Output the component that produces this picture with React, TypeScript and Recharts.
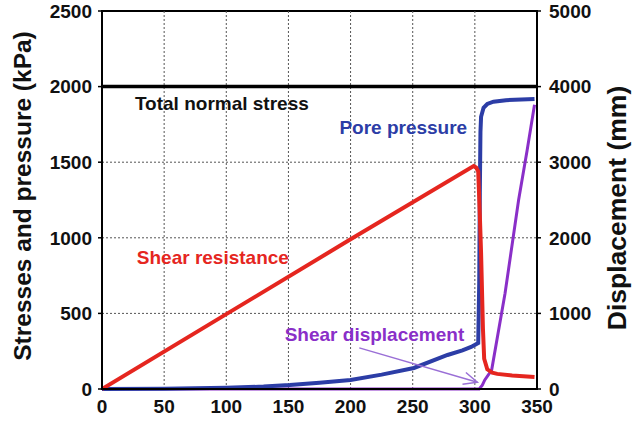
import React from "react";
import {
  ComposedChart,
  Line,
  XAxis,
  YAxis,
  ReferenceLine,
  ReferenceDot,
  ReferenceArea,
} from "recharts";

// Elapsed time (x) and stresses (kPa) for the ring-shear test
const normalTime = [0, 350];
const normalStress = [2000, 2000];

const shearTime = [0, 100, 200, 299, 301, 302.7, 304, 305, 306.5, 307.5, 310, 314, 318, 330, 348];
const shearResistance = [0, 495, 990, 1475, 1465, 1440, 1150, 900, 400, 200, 130, 108, 100, 90, 80];

const poreTime = [0, 50, 100, 130, 151, 175, 200, 225, 251, 278, 290, 297, 302.7, 303.5, 304, 304.5, 305, 307, 310, 315, 325, 348];
const porePressure = [0, 2, 8, 16, 26, 42, 60, 95, 139, 225, 255, 278, 304, 700, 1300, 1700, 1800, 1860, 1885, 1900, 1910, 1918];

// Shear displacement (mm), right axis
const dispTime = [0, 303.5, 306, 308, 313.5, 324.3, 335.2, 342, 348];
const shearDisplacement = [0, 0, 50, 120, 250, 1266, 2500, 3150, 3760];

const xTicks = [0, 50, 100, 150, 200, 250, 300, 350];
const leftTicks = [0, 500, 1000, 1500, 2000, 2500];
const rightTicks = [0, 1000, 2000, 3000, 4000, 5000];

const leftTitle = "Stresses and pressure (kPa)";
const rightTitle = "Displacement (mm)";

const zip = (ts: number[], vs: number[]) => ts.map((t, i) => ({ t, v: vs[i] }));

const normalData = zip(normalTime, normalStress);
const shearData = zip(shearTime, shearResistance);
const poreData = zip(poreTime, porePressure);
const dispData = zip(dispTime, shearDisplacement);

const RED = "#e5261f";
const BLUE = "#2c3da6";
const PURPLE = "#8a2fc8";
const FONT = "'Liberation Sans', Arial, Helvetica, sans-serif";

const tickStyle = { fontFamily: FONT, fontWeight: 700, fontSize: 19, fill: "#111" };

// Dotted grid lines at the inner ticks
const gridX = xTicks.slice(1, -1);
const gridY = leftTicks.slice(1, -1);

const makeText = (text: string, color: string) => (props: any) => (
  <text
    x={props.cx}
    y={props.cy}
    fill={color}
    fontFamily={FONT}
    fontWeight={700}
    fontSize={19}
    textAnchor="start"
  >
    {text}
  </text>
);

// Rotated axis title, centred at an offset inside the axis box
const axisTitle = (text: string, dx: number, dyFromTop: number, size: number) => (props: any) => {
  const vb = props.viewBox || { x: 0, y: 0 };
  const cx = vb.x + dx;
  const cy = vb.y + dyFromTop;
  return (
    <text
      transform={`translate(${cx},${cy}) rotate(-90)`}
      textAnchor="middle"
      dominantBaseline="central"
      fontFamily={FONT}
      fontWeight={700}
      fontSize={size}
      fill="#111"
    >
      {text}
    </text>
  );
};

const ArrowShape = (props: any) => {
  const { x1, y1, x2, y2 } = props;
  const ang = Math.atan2(y2 - y1, x2 - x1);
  const len = 15;
  const spread = 0.42;
  const ax = x2 - len * Math.cos(ang - spread);
  const ay = y2 - len * Math.sin(ang - spread);
  const bx = x2 - len * Math.cos(ang + spread);
  const by = y2 - len * Math.sin(ang + spread);
  return (
    <g stroke="#9a6fd6" strokeWidth={1.5} fill="none">
      <line x1={x1} y1={y1} x2={x2} y2={y2} />
      <polyline points={`${ax},${ay} ${x2},${y2} ${bx},${by}`} />
    </g>
  );
};

export default function App() {
  return (
    <div style={{ position: "absolute", left: 0, top: 0, background: "#fff" }}>
      <ComposedChart
        width={633}
        height={424}
        margin={{ top: 11, right: 0, bottom: 0, left: 0 }}
      >
        <XAxis
          dataKey="t"
          type="number"
          domain={[0, 350]}
          ticks={xTicks}
          allowDataOverflow
          tick={tickStyle}
          tickLine={false}
          tickSize={0}
          tickMargin={11}
          height={35}
          axisLine={{ stroke: "#000", strokeWidth: 2 }}
        />
        <YAxis
          yAxisId="left"
          domain={[0, 2500]}
          ticks={leftTicks}
          width={102}
          tick={tickStyle}
          tickSize={4}
          tickMargin={6}
          tickLine={{ stroke: "#000", strokeWidth: 1.5 }}
          axisLine={{ stroke: "#000", strokeWidth: 2 }}
          label={{ content: axisTitle(leftTitle, 22, 185, 24.5) }}
        />
        <YAxis
          yAxisId="right"
          orientation="right"
          domain={[0, 5000]}
          ticks={rightTicks}
          width={96}
          tick={tickStyle}
          tickSize={4}
          tickMargin={8}
          tickLine={{ stroke: "#000", strokeWidth: 1.5 }}
          axisLine={{ stroke: "#000", strokeWidth: 2 }}
          label={{ content: axisTitle(rightTitle, 80, 197, 26.5) }}
        />
        {gridX.map((x) => (
          <ReferenceLine
            key={`gx${x}`}
            yAxisId="left"
            x={x}
            stroke="#555"
            strokeWidth={1}
            strokeDasharray="2 2"
          />
        ))}
        {gridY.map((y) => (
          <ReferenceLine
            key={`gy${y}`}
            yAxisId="left"
            y={y}
            stroke="#555"
            strokeWidth={1}
            strokeDasharray="2 2"
          />
        ))}
        <ReferenceArea
          yAxisId="left"
          x1={0}
          x2={350}
          y1={0}
          y2={2500}
          fill="none"
          stroke="#000"
          strokeWidth={2}
          ifOverflow="visible"
        />
        <Line
          yAxisId="left"
          data={normalData}
          dataKey="v"
          stroke="#000"
          strokeWidth={3.5}
          dot={false}
          isAnimationActive={false}
        />
        <Line
          yAxisId="right"
          data={dispData}
          dataKey="v"
          stroke={PURPLE}
          strokeWidth={3}
          dot={false}
          isAnimationActive={false}
        />
        <Line
          yAxisId="left"
          data={poreData}
          dataKey="v"
          stroke={BLUE}
          strokeWidth={4}
          dot={false}
          isAnimationActive={false}
        />
        <Line
          yAxisId="left"
          data={shearData}
          dataKey="v"
          stroke={RED}
          strokeWidth={4}
          dot={false}
          isAnimationActive={false}
        />
        <ReferenceLine
          yAxisId="left"
          segment={[
            { x: 207, y: 272 },
            { x: 302, y: 45 },
          ]}
          ifOverflow="visible"
          shape={ArrowShape}
        />
        <ReferenceDot yAxisId="left" x={26.5} y={1845} ifOverflow="visible" shape={makeText("Total normal stress", "#111")} />
        <ReferenceDot yAxisId="left" x={191} y={1687} ifOverflow="visible" shape={makeText("Pore pressure", BLUE)} />
        <ReferenceDot yAxisId="left" x={28} y={827} ifOverflow="visible" shape={makeText("Shear resistance", RED)} />
        <ReferenceDot yAxisId="left" x={147} y={317} ifOverflow="visible" shape={makeText("Shear displacement", PURPLE)} />
      </ComposedChart>
    </div>
  );
}
